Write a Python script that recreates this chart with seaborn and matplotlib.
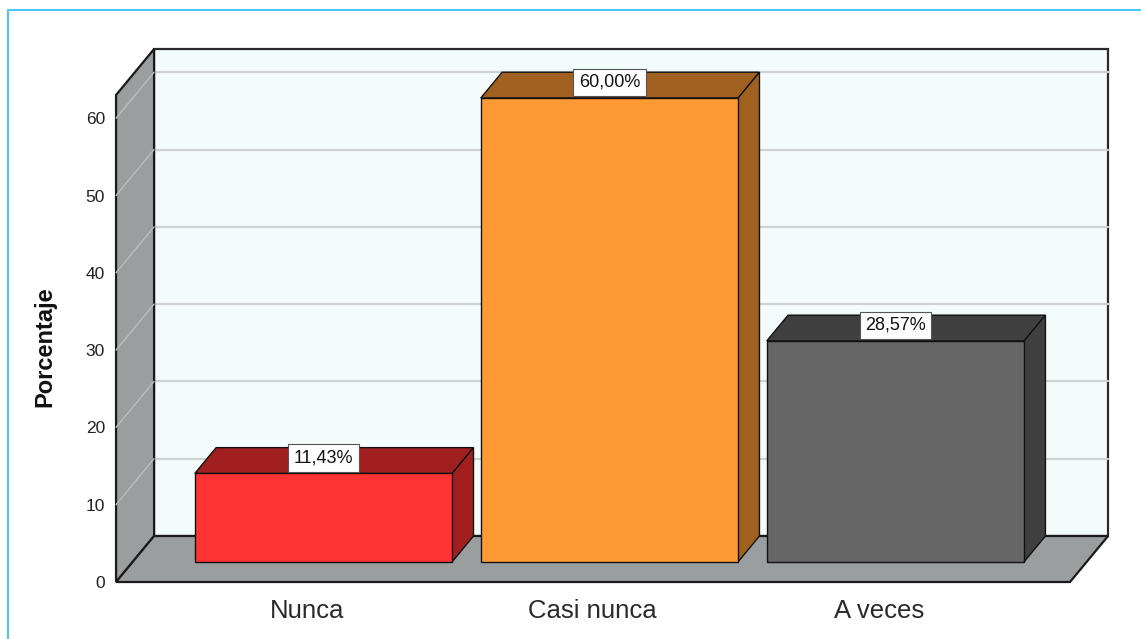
import matplotlib
matplotlib.use("Agg")
import matplotlib.pyplot as plt
from matplotlib.patches import Polygon, Rectangle
from matplotlib.lines import Line2D
import seaborn as sns
import pandas as pd

# data
categorias = ["Nunca", "Casi nunca", "A veces"]
porcentajes = [11.43, 60.00, 28.57]
yticks = [0, 10, 20, 30, 40, 50, 60]

# colours (front face / top+side face)
col_frente = ["#ff3333", "#ff9933", "#666666"]
col_sombra = ["#a11f1f", "#a0601f", "#404040"]

df = pd.DataFrame({"Categoria": categorias, "Porcentaje": porcentajes})

sns.set_theme(style="white")
plt.rcParams["font.family"] = ["Liberation Sans", "DejaVu Sans"]

fig = plt.figure(figsize=(11.41, 6.39), dpi=100)
ax = fig.add_axes([0.1017, 0.0892, 0.8361, 0.7621])

# fake 3d depth, in data units
DX, DY = 0.133, 5.95
F0 = 0.44          # where the bar front sits inside the depth
XMIN, XMAX = -0.667, 2.669
YMAX = 63

# frame
fig.add_artist(Line2D([8 / 1141, 8 / 1141, 1.0], [0.0, 1 - 10 / 639, 1 - 10 / 639],
                      transform=fig.transFigure, color="#4fc6f0", lw=1.5))

# back wall
ax.add_patch(Rectangle((XMIN + DX, DY), XMAX - XMIN, YMAX, facecolor="#f3fcfb",
                       edgecolor="#2a2a2a", lw=1.6, zorder=0.5, clip_on=False))
for t in yticks[1:]:
    ax.plot([XMIN + DX, XMAX + DX], [t + DY, t + DY], color="#cdd1d1", lw=1.6,
            zorder=0.6, clip_on=False)

# left side wall
ax.add_patch(Polygon([(XMIN, 0), (XMIN, YMAX), (XMIN + DX, YMAX + DY), (XMIN + DX, DY)],
                     closed=True, facecolor="#9a9e9e", edgecolor="#1a1a1a", lw=1.6,
                     zorder=0.7, clip_on=False))
for t in yticks:
    ax.plot([XMIN, XMIN + DX], [t, t + DY], color="#b9bdbd", lw=1.0, zorder=0.75,
            clip_on=False)

# floor
ax.add_patch(Polygon([(XMIN, 0), (XMAX, 0), (XMAX + DX, DY), (XMIN + DX, DY)],
                     closed=True, facecolor="#9a9e9e", edgecolor="#1a1a1a", lw=1.6,
                     zorder=0.8, clip_on=False))

# bars
n_antes = len(ax.patches)
sns.barplot(data=df, x="Categoria", y="Porcentaje", hue="Categoria",
            palette=col_frente, saturation=1, width=0.9, edgecolor="#111111",
            linewidth=1.0, legend=False, ax=ax)
barras = list(ax.patches[n_antes:])

bdx, bdy = (1 - F0) * DX, (1 - F0) * DY
for p, sombra, v in zip(barras, col_sombra, porcentajes):
    x0 = p.get_x() + F0 * DX
    y0 = F0 * DY
    w, h = p.get_width(), p.get_height()
    p.set_x(x0)
    p.set_y(y0)
    p.set_zorder(2)
    top = [(x0, y0 + h), (x0 + w, y0 + h), (x0 + w + bdx, y0 + h + bdy), (x0 + bdx, y0 + h + bdy)]
    side = [(x0 + w, y0), (x0 + w, y0 + h), (x0 + w + bdx, y0 + h + bdy), (x0 + w + bdx, y0 + bdy)]
    for pts in (top, side):
        ax.add_patch(Polygon(pts, closed=True, facecolor=sombra, edgecolor="#111111",
                             lw=1.0, zorder=1.9, clip_on=False))
    etiqueta = f"{v:.2f}".replace(".", ",") + "%"
    ax.annotate(etiqueta, xy=(x0 + w / 2, y0 + h), xytext=(0, 7),
                textcoords="offset pixels", ha="center", va="bottom", fontsize=13,
                color="#111111", zorder=3, annotation_clip=False,
                bbox=dict(boxstyle="square,pad=0.3", fc="white", ec="#555555", lw=0.8))

ax.set_xlim(XMIN, XMAX)
ax.set_ylim(0, YMAX)
ax.set_yticks(yticks)
ax.set_yticklabels([str(t) for t in yticks], fontsize=12.5, color="#222222")
ax.tick_params(axis="y", length=0, pad=8)
ax.tick_params(axis="x", length=0, pad=12, labelsize=18.5, labelcolor="#2a2a2a")
ax.set_xlabel("")
ax.set_ylabel("")
for s in ax.spines.values():
    s.set_visible(False)
ax.patch.set_alpha(0)

fig.text(45 / 1141, 1 - 347 / 639, "Porcentaje", rotation=90, ha="center", va="center",
         fontsize=17, fontweight="bold", color="#111111")

fig.savefig("out.png", dpi=100, facecolor="white")
